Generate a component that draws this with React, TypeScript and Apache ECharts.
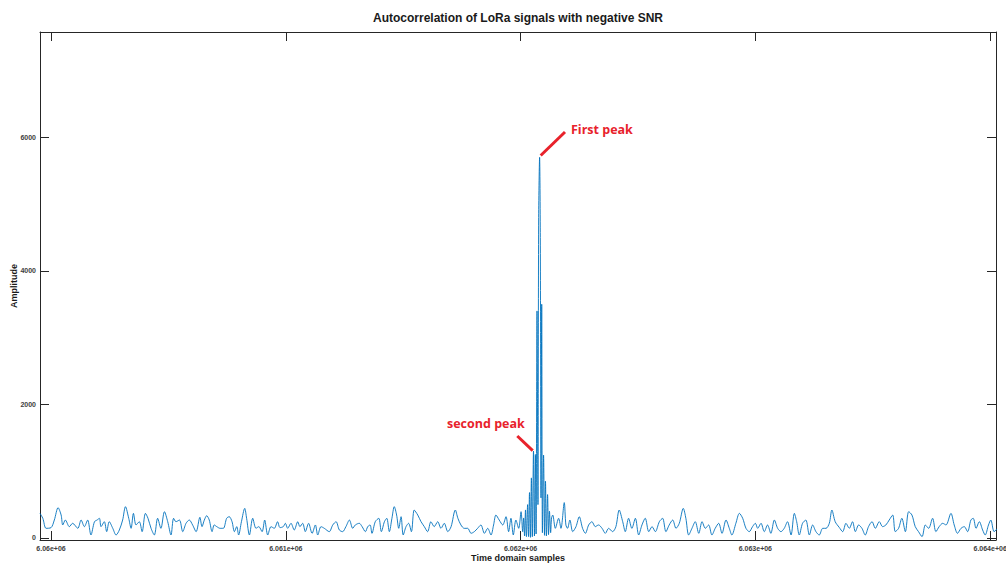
import React, { useEffect, useRef } from "react";
import * as echarts from "echarts";

const TITLE = "Autocorrelation of LoRa signals with negative SNR";
const X_NAME = "Time domain samples";
const Y_NAME = "Amplitude";
const FIRST_PEAK_LABEL = "First peak";
const SECOND_PEAK_LABEL = "second peak";

const BASE_SAMPLE = 6060000;
const X_MIN = 6059953;
const X_MAX = 6064025;
const Y_MIN = -30;
const Y_MAX = 7577;

const xTickValues = [6060000, 6061000, 6062000, 6063000, 6064000];
const yTickValues = [0, 2000, 4000, 6000];

// sample index offsets from BASE_SAMPLE
const sampleOffsets = [
  -47, -35, -21, 0, 14, 30, 43, 50, 61, 78, 92, 114, 128, 142, 156, 170, 185, 196, 206, 213,
  227, 237, 248, 263, 277, 291, 305, 317, 331, 341, 351, 362, 376, 388, 402, 413, 426, 440, 454, 468,
  483, 497, 511, 522, 532, 547, 561, 575, 589, 603, 618, 634,
  643, 653, 663, 674, 686, 695, 706, 720, 734, 748, 759, 771, 781, 791, 799, 811, 825, 833,
  845, 859, 873, 885, 899, 910, 923, 937, 951, 965, 975, 989, 998, 1008, 1022, 1036, 1051, 1060,
  1072, 1083, 1097, 1112, 1126, 1136, 1150, 1164, 1185, 1200, 1214, 1228, 1242, 1256, 1271, 1285, 1296, 1313,
  1325, 1339, 1349, 1359, 1367, 1381, 1396, 1407, 1420, 1430, 1441, 1452, 1462, 1472, 1481, 1491,
  1500, 1512, 1523, 1535, 1547, 1562, 1576, 1590, 1604, 1618, 1632, 1647, 1661, 1675, 1690, 1704,
  1722, 1733, 1746, 1760, 1775, 1789, 1803, 1817, 1831, 1846, 1860, 1874, 1885, 1895, 1909, 1924,
  1938, 1949, 1959, 1969, 1980, 1992, 2002, 2009,
  2013, 2017, 2021, 2025, 2030, 2034, 2038, 2042, 2046, 2050, 2055, 2059, 2063, 2066, 2070, 2074,
  2077, 2081, 2084, 2087, 2090, 2093, 2098, 2102, 2106, 2110, 2115, 2119, 2123, 2128, 2132, 2137,
  2148, 2162, 2172, 2186, 2193, 2200, 2210, 2222, 2236, 2250, 2264, 2276, 2290, 2304, 2318, 2332,
  2347, 2361, 2375, 2392, 2406, 2420, 2435, 2446, 2460, 2474, 2489, 2503, 2517, 2531, 2546, 2560,
  2574, 2591, 2605, 2619, 2633, 2648, 2662, 2676,
  2693, 2704, 2716, 2730, 2744, 2759, 2773, 2787, 2801, 2815, 2829, 2844, 2858, 2875, 2889, 2900,
  2917, 2932, 2946, 2960, 2974, 2988, 3000, 3010, 3024, 3038, 3052, 3066, 3081, 3095, 3109, 3123,
  3137, 3152, 3166, 3176, 3187, 3201, 3215, 3230, 3244, 3258, 3272, 3287, 3301, 3315, 3326, 3340, 3357,
  3372, 3386, 3400, 3414, 3426, 3440, 3454, 3468, 3482, 3497, 3511, 3528, 3542, 3556, 3570, 3585,
  3596, 3610, 3624, 3639, 3653, 3667, 3681, 3695, 3710, 3724, 3738, 3755, 3769, 3783, 3798, 3812,
  3833, 3847, 3861, 3876, 3890, 3904, 3918, 3928, 3940, 3954, 3968, 3979, 3993, 4003, 4017, 4031,
];

const amplitudes = [
  369, 295, 145, 155, 269, 454, 344, 195, 269, 170, 220, 145, 269, 170, 269, 45, 244, 269, 295, 170,
  244, 95, 244, 145, 45, 120, 269, 469, 295, 145, 369, 195, 244, 95, 369, 295, 145, 45, 295, 145,
  394, 244, 45, 295, 244, 269, 95, 220, 269, 195, 95, 310,
  170, 269, 334, 269, 95, 195, 170, 145, 145, 295, 319, 244, 95, 170, 45, 244, 444, 295,
  45, 295, 145, 170, 95, 269, 45, 170, 145, 244, 155, 170, 220, 145, 220, 120, 244, 170,
  220, 95, 220, 70, 195, 45, 170, 145, 95, 195, 244, 120, 95, 170, 269, 145, 195, 220,
  170, 95, 170, 195, 70, 244, 295, 95, 244, 295, 95, 295, 469, 344, 145, 319,
  45, 170, 220, 95, 419, 344, 244, 170, 95, 244, 170, 244, 145, 220, 95, 170,
  419, 295, 195, 145, 145, 70, 95, 145, 195, 70, 145, 45, 195, 344, 269, 195,
  319, 95, 295, 45, 269, 145, 394, 95,
  300, 30, 420, 20, 500, 20, 680, 10, 900, 20, 1300, 30, 1250, 60, 3400, 500,
  4800, 5700, 4500, 600, 3500, 80, 1240, 40, 850, 30, 650, 50, 400, 80, 300, 344,
  145, 295, 145, 530, 195, 145, 269, 95, 170, 319, 145, 70, 195, 244, 170, 195,
  145, 70, 145, 95, 170, 419, 244, 95, 295, 145, 295, 45, 195, 295, 95, 170,
  95, 244, 295, 95, 195, 269, 145, 220,
  444, 295, 45, 145, 244, 70, 244, 145, 195, 45, 145, 220, 70, 269, 145, 45,
  220, 369, 295, 145, 95, 170, 220, 145, 220, 95, 195, 70, 269, 145, 95, 145,
  244, 45, 369, 244, 45, 220, 269, 45, 195, 95, 45, 145, 145, 220, 419, 244, 160,
  95, 220, 145, 244, 95, 195, 145, 45, 170, 244, 145, 244, 170, 195, 269, 344,
  95, 145, 295, 95, 394, 344, 170, 95, 20, 195, 145, 295, 95, 170, 220, 195,
  369, 195, 70, 145, 170, 95, 269, 295, 145, 244, 120, 45, 195, 269, 95, 145,
];

const AXIS_COLOR = "#262626";
const LABEL_COLOR = "#404040";
const LINE_COLOR = "#0072BD";
const ANNOT_COLOR = "#e8222b";

function formatSci(v: number): string {
  return `${+(v / 1e6).toFixed(4)}e+06`;
}

export default function App() {
  const ref = useRef<HTMLDivElement>(null);

  useEffect(() => {
    if (!ref.current) return;
    const chart = echarts.init(ref.current, null, { renderer: "svg" });
    const seriesData = sampleOffsets.map((o, i) => [BASE_SAMPLE + o, amplitudes[i]]);

    const tickStyle = { color: AXIS_COLOR, width: 1 };
    const nameStyle = {
      fontSize: 9,
      fontWeight: "bold",
      color: "#1a1a1a",
      fontFamily: "Liberation Sans, Arial, sans-serif",
    };

    chart.setOption({
      animation: false,
      backgroundColor: "#ffffff",
      grid: { left: 40, right: 10, top: 32, bottom: 25, containLabel: false, outerBoundsMode: "none" },
      graphic: [
        {
          type: "text",
          x: 518,
          y: 18,
          style: {
            text: TITLE,
            fontSize: 12,
            fontWeight: "bold",
            fontFamily: "Liberation Sans, Arial, sans-serif",
            fill: "#1a1a1a",
            align: "center",
            verticalAlign: "middle",
          },
        },
        {
          type: "line",
          shape: { x1: 540.7, y1: 155.5, x2: 565, y2: 132 },
          style: { stroke: ANNOT_COLOR, lineWidth: 3 },
        },
        {
          type: "text",
          x: 571,
          y: 129,
          style: {
            text: FIRST_PEAK_LABEL,
            fontSize: 12.5,
            fontWeight: "bold",
            fontFamily: "Open Sans, Noto Sans, sans-serif",
            fill: ANNOT_COLOR,
            align: "left",
            verticalAlign: "middle",
          },
        },
        {
          type: "line",
          shape: { x1: 517.3, y1: 436, x2: 532.7, y2: 450.7 },
          style: { stroke: ANNOT_COLOR, lineWidth: 3 },
        },
        {
          type: "text",
          x: 447,
          y: 423,
          style: {
            text: SECOND_PEAK_LABEL,
            fontSize: 12.5,
            fontWeight: "bold",
            fontFamily: "Open Sans, Noto Sans, sans-serif",
            fill: ANNOT_COLOR,
            align: "left",
            verticalAlign: "middle",
          },
        },
      ],
      xAxis: [
        {
          type: "value",
          min: X_MIN,
          max: X_MAX,
          position: "bottom",
          name: X_NAME,
          nameLocation: "middle",
          nameGap: 13,
          nameMoveOverlap: false,
          nameTextStyle: nameStyle,
          axisLine: { show: true, onZero: false, lineStyle: tickStyle },
          axisTick: { show: true, inside: true, length: 9, customValues: xTickValues, lineStyle: tickStyle },
          axisLabel: {
            customValues: xTickValues,
            formatter: (v: number) => formatSci(v),
            fontSize: 7,
            fontWeight: "bold",
            color: LABEL_COLOR,
            margin: 5,
            hideOverlap: false,
            fontFamily: "Liberation Sans, Arial, sans-serif",
          },
          splitLine: { show: false },
        },
        {
          type: "value",
          min: X_MIN,
          max: X_MAX,
          position: "top",
          axisLine: { show: true, onZero: false, lineStyle: tickStyle },
          axisTick: { show: true, inside: true, length: 9, customValues: xTickValues, lineStyle: tickStyle },
          axisLabel: { show: false },
          splitLine: { show: false },
        },
      ],
      yAxis: [
        {
          type: "value",
          min: Y_MIN,
          max: Y_MAX,
          position: "left",
          name: Y_NAME,
          nameLocation: "middle",
          nameGap: 22,
          nameRotate: 90,
          nameMoveOverlap: false,
          nameTextStyle: nameStyle,
          axisLine: { show: true, onZero: false, lineStyle: tickStyle },
          axisTick: { show: true, inside: true, length: 9, customValues: yTickValues, lineStyle: tickStyle },
          axisLabel: {
            customValues: yTickValues,
            formatter: (v: number) => String(v),
            fontSize: 7,
            fontWeight: "bold",
            color: LABEL_COLOR,
            margin: 4,
            fontFamily: "Liberation Sans, Arial, sans-serif",
          },
          splitLine: { show: false },
        },
        {
          type: "value",
          min: Y_MIN,
          max: Y_MAX,
          position: "right",
          axisLine: { show: true, onZero: false, lineStyle: tickStyle },
          axisTick: { show: true, inside: true, length: 9, customValues: yTickValues, lineStyle: tickStyle },
          axisLabel: { show: false },
          splitLine: { show: false },
        },
      ],
      series: [
        {
          type: "line",
          xAxisIndex: 0,
          yAxisIndex: 0,
          data: seriesData,
          showSymbol: false,
          symbol: "none",
          smooth: 0.3,
          clip: true,
          lineStyle: { color: LINE_COLOR, width: 0.9 },
        },
      ],
    });

    return () => chart.dispose();
  }, []);

  return (
    <div
      ref={ref}
      style={{ position: "absolute", left: 0, top: 0, width: 1006, height: 565, background: "#fff" }}
    />
  );
}
